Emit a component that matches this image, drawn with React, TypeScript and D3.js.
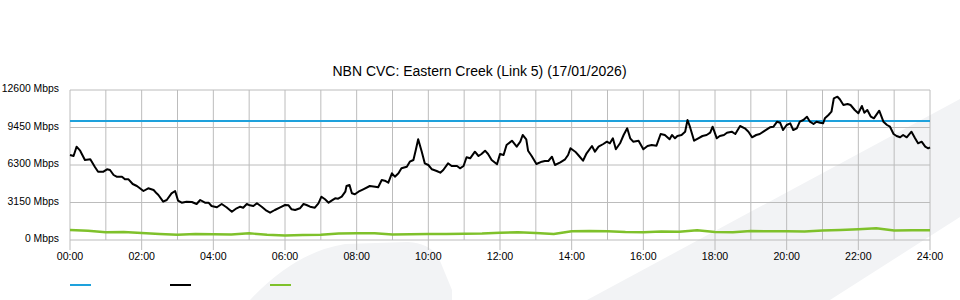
import React from "react";
import * as d3 from "d3";

const TITLE = "NBN CVC: Eastern Creek (Link 5) (17/01/2026)";
const yTicks = [0, 3150, 6300, 9450, 12600];
const xTickHours = [0, 2, 4, 6, 8, 10, 12, 14, 16, 18, 20, 22, 24];
const capacityMinutes = [0, 1440];
const capacityMbps = [10000, 10000];

// Traffic (black) — minutes after midnight / Mbps
const trafficMinutes = [
  0, 6, 11, 17, 25, 34, 42, 47, 56, 62, 67, 73, 78, 87, 92, 98, 105, 112, 117, 123, 131, 140, 145, 148,
  156, 162, 170, 176, 181, 187, 195, 204, 212, 218, 226, 232, 237, 246, 254, 262, 271, 279, 285, 290,
  296, 301, 307, 313, 321, 329, 335, 343, 352, 360, 366, 371, 377, 385, 391, 396, 402, 410, 416, 421,
  427, 433, 438, 444, 449, 455, 461, 463, 468, 472, 477, 483, 491, 502, 511, 516, 522, 527, 533, 539,
  544, 550, 555, 564, 569, 575, 579, 583, 589, 594, 600, 606, 614, 620, 625, 633, 639, 648, 653, 659,
  664, 670, 678, 684, 689, 695, 700, 706, 715, 720, 726, 731, 740, 748, 754, 758, 764, 767, 773, 781,
  790, 795, 801, 807, 812, 821, 829, 834, 838, 846, 851, 859, 865, 874, 879, 885, 893, 899, 904, 909,
  914, 921, 927, 933, 938, 943, 952, 960, 967, 974, 982, 989, 996, 1004, 1008, 1013, 1017, 1024, 1030,
  1034, 1038, 1045, 1052, 1059, 1066, 1072, 1076, 1083, 1088, 1095, 1100, 1108, 1114, 1122, 1130, 1136,
  1142, 1149, 1155, 1161, 1172, 1178, 1184, 1189, 1194, 1200, 1206, 1211, 1217, 1222, 1228, 1234, 1239,
  1245, 1250, 1256, 1261, 1264, 1270, 1275, 1279, 1285, 1289, 1295, 1302, 1307, 1314, 1320, 1326, 1330,
  1335, 1341, 1346, 1355, 1362, 1368, 1373, 1379, 1384, 1390, 1395, 1401, 1409, 1415, 1420, 1426, 1432,
  1437, 1440,
];
const trafficMbps = [
  7140, 7056, 7837, 7501, 6720, 6779, 6107, 5737, 5737, 5939, 5880, 5460, 5317, 5317, 5099, 5099, 4704,
  4536, 4343, 4116, 4343, 4200, 3923, 3780, 3217, 3360, 3923, 4116, 3301, 3133, 3217, 3192, 3024, 3360,
  3133, 3133, 2856, 2747, 3024, 2747, 2377, 2663, 2797, 2713, 3024, 2915, 2856, 3083, 2797, 2461, 2293,
  2520, 2747, 2940, 2915, 2579, 2520, 2663, 3024, 2940, 2797, 2713, 3083, 3637, 3419, 3133, 3301, 3503,
  3469, 3637, 4057, 4536, 4620, 3923, 3839, 4057, 4259, 4536, 4477, 4427, 5040, 4981, 4813, 5603, 5317,
  5603, 6023, 6157, 6577, 6720, 7560, 8459, 7417, 6443, 6300, 5939, 5796, 5653, 5880, 6443, 6216, 6216,
  6023, 6216, 6947, 6863, 7417, 7056, 7224, 7501, 7224, 6720, 6359, 7224, 7140, 7980, 8341, 7837, 8257,
  8820, 8459, 7501, 7056, 6384, 6577, 6636, 6636, 6997, 6300, 6527, 6779, 7140, 7703, 7417, 7140, 6661,
  7283, 7896, 7417, 7837, 8064, 8257, 8123, 8543, 7619, 8123, 8820, 9383, 8543, 8257, 8341, 7619, 7896,
  7980, 7921, 8904, 8820, 8459, 8820, 8543, 8736, 8820, 9097, 10080, 9517, 8341, 8543, 8736, 8820, 9013,
  9517, 8543, 8736, 8820, 9013, 9097, 8904, 9576, 9383, 9097, 8627, 8820, 8904, 9097, 9467, 9517, 9937,
  9853, 9240, 9660, 9803, 9240, 9383, 9937, 10080, 10357, 9937, 9744, 9937, 9853, 9803, 10223, 10500,
  10777, 11903, 12037, 11819, 11340, 11424, 11340, 10920, 10643, 11256, 10693, 10920, 10357, 10223,
  10861, 9937, 9660, 9517, 8904, 8736, 8627, 8820, 8627, 9097, 8543, 8123, 8257, 7837, 7703, 7787,
];

// Second series (green) — every 30 minutes, Mbps
const greenMbps = [
  840, 781, 647, 672, 588, 504, 445, 504, 479, 462, 563, 445, 378, 420, 445, 546, 563, 563, 462, 479,
  504, 504, 521, 546, 605, 647, 588, 504, 731, 756, 731, 672, 647, 714, 697, 815, 672, 647, 756, 731,
  739, 714, 798, 840, 899, 991, 798, 823, 815,
];
const greenMinutes = greenMbps.map((_, i) => i * 30);

const legendColors = ["#1ea1dc", "#000000", "#7fc12b"];

export default function App() {
  const W = 960;
  const H = 300;
  const x = d3.scaleLinear().domain([0, 1440]).range([70, 930]);
  const y = d3.scaleLinear().domain([0, 12600]).range([240, 90]);
  const hours = d3.range(0, 25);

  const line = d3
    .line<[number, number]>()
    .x((d) => x(d[0]))
    .y((d) => y(d[1]));

  const traffic = trafficMinutes.map((m, i) => [m, trafficMbps[i]] as [number, number]);
  const green = greenMinutes.map((m, i) => [m, greenMbps[i]] as [number, number]);
  const cap = capacityMinutes.map((m, i) => [m, capacityMbps[i]] as [number, number]);

  const font = "'Liberation Sans', Arial, Helvetica, sans-serif";
  const grid = "#bcbcbc";

  return (
    <div style={{ position: "absolute", left: 0, top: 0 }}>
      <svg width={W} height={H} style={{ display: "block", background: "#fff" }} fontFamily={font}>
        {/* background watermark shapes */}
        <path d="M250,300 Q295,252 345,244 L408,242 Q428,243 438,256 L452,290 L452,300 Z" fill="#f2f3f5" />
        <path d="M587,300 L960,99 L960,217 L830,300 Z" fill="#f2f3f5" />

        <text x={479.5} y={76} textAnchor="middle" fontSize={14} fill="#000">
          {TITLE}
        </text>

        {/* horizontal grid */}
        {yTicks.map((t) => (
          <line key={"h" + t} x1={70} x2={930} y1={y(t)} y2={y(t)} stroke={grid} strokeWidth={1} />
        ))}
        {/* vertical grid */}
        {hours.map((h) => (
          <line key={"v" + h} x1={x(h * 60)} x2={x(h * 60)} y1={90} y2={240} stroke={grid} strokeWidth={1} />
        ))}
        {/* x ticks */}
        {xTickHours.map((h) => (
          <line key={"t" + h} x1={x(h * 60)} x2={x(h * 60)} y1={240} y2={250} stroke={grid} strokeWidth={1} />
        ))}

        {/* y labels */}
        {yTicks.map((t) => (
          <text key={"yl" + t} x={59} y={y(t) + 2} textAnchor="end" fontSize={10.4} fill="#000">
            {`${t} Mbps`}
          </text>
        ))}
        {/* x labels */}
        {xTickHours.map((h) => (
          <text key={"xl" + h} x={x(h * 60)} y={260} textAnchor="middle" fontSize={10.6} fill="#000">
            {`${String(h).padStart(2, "0")}:00`}
          </text>
        ))}

        {/* series */}
        <path d={line(green) || ""} fill="none" stroke={legendColors[2]} strokeWidth={2.4} strokeLinejoin="round" />
        <path d={line(cap) || ""} fill="none" stroke={legendColors[0]} strokeWidth={2} />
        <path d={line(traffic) || ""} fill="none" stroke={legendColors[1]} strokeWidth={2} strokeLinejoin="round" />

        {/* legend */}
        {legendColors.map((c, i) => (
          <line key={"lg" + i} x1={70 + i * 100} x2={91 + i * 100} y1={285} y2={285} stroke={c} strokeWidth={2} />
        ))}
      </svg>
    </div>
  );
}
